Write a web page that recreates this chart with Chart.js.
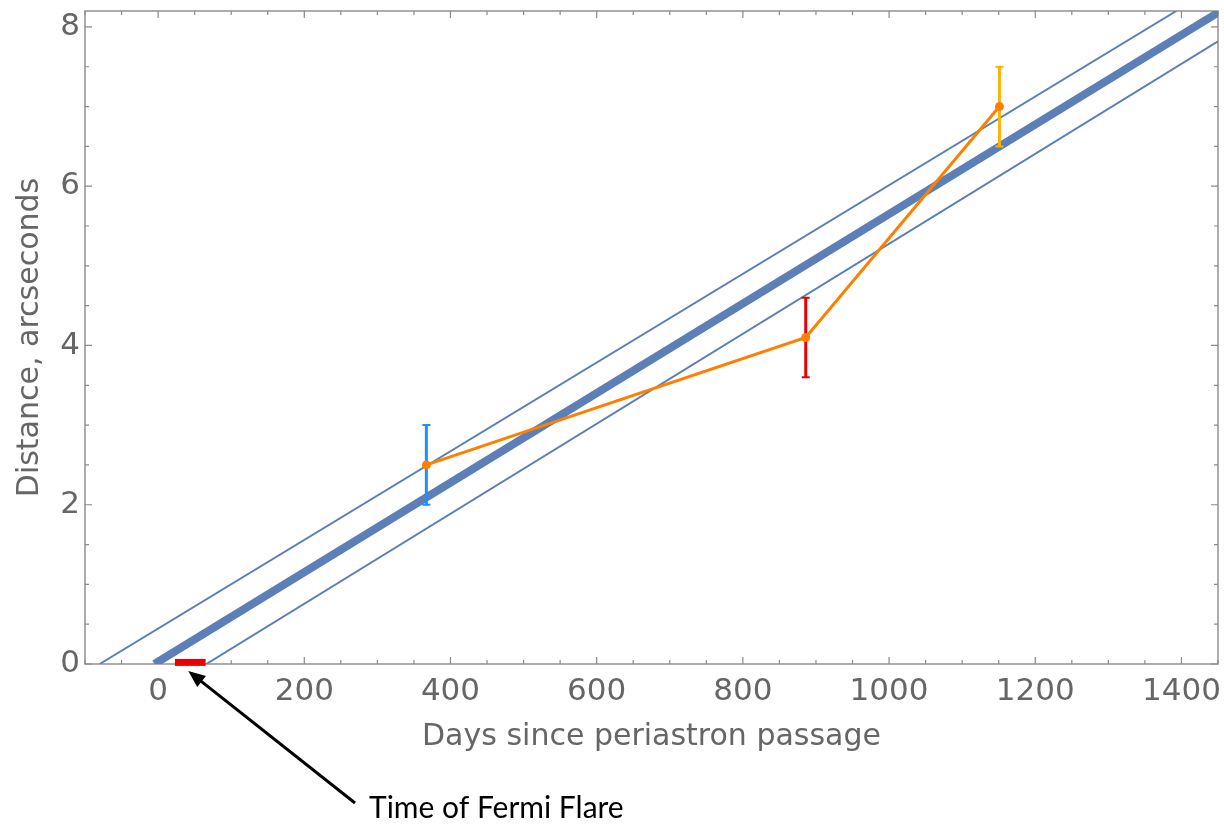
<!DOCTYPE html>
<html>
<head>
<meta charset="utf-8">
<script src="https://cdn.jsdelivr.net/npm/chart.js@4"></script>
<style>
  html, body { margin: 0; padding: 0; background: #ffffff; }
  #wrap { width: 1224px; height: 826px; position: relative; }
</style>
</head>
<body>
<div id="wrap"><canvas id="chart"></canvas></div>
<script>
// ========================================
// Data
// ========================================
const obsDays = [367, 886, 1151];
const obsDist = [2.5, 4.1, 7.0];
const obsLow = [2.0, 3.6, 6.5];
const obsHigh = [3.0, 4.6, 7.5];
const obsColors = ['#1e8fff', '#e80000', '#ffb400'];

// fitted expansion line and its envelope (end points where they meet the frame)
const fitDays = [-5, 1450];
const fitDist = [0, 8.18];
const upperDays = [-80, 1393];
const upperDist = [0, 8.2];
const lowerDays = [66, 1450];
const lowerDist = [0, 7.82];

// Fermi flare interval
const flareDays = [23, 65];
const flareDist = [0.02, 0.02];

const xTickLabels = [0, 200, 400, 600, 800, 1000, 1200, 1400];
const yTickLabels = [0, 2, 4, 6, 8];

const GRAY = '#666666';
const LINE_BLUE = '#5b7fb6';
const FONT = "'DejaVu Sans', 'Liberation Sans', sans-serif";

const pts = (xs, ys) => xs.map((x, i) => ({ x: x, y: ys[i] }));
const near = (v, list) => list.find(l => Math.abs(l - v) < 1e-6);

// ========================================
// Plugins
// ========================================
// Mathematica-style frame with inward ticks on all four sides
const frameTicks = {
    id: 'frameTicks',
    beforeDatasetsDraw(chart) {
        const { ctx, chartArea: a, scales: { x, y } } = chart;
        ctx.save();
        ctx.strokeStyle = '#8a8a8a';
        ctx.lineWidth = 1.4;
        ctx.strokeRect(a.left, a.top, a.right - a.left, a.bottom - a.top);
        ctx.lineWidth = 1.2;
        ctx.beginPath();
        x.ticks.forEach(t => {
            if (t.value % 50 !== 0) return;
            const px = x.getPixelForValue(t.value);
            const len = t.value % 200 === 0 ? 7 : 4;
            ctx.moveTo(px, a.bottom); ctx.lineTo(px, a.bottom - len);
            ctx.moveTo(px, a.top); ctx.lineTo(px, a.top + len);
        });
        y.ticks.forEach(t => {
            if (Math.abs(t.value * 2 - Math.round(t.value * 2)) > 1e-6) return;
            const py = y.getPixelForValue(t.value);
            const len = near(t.value, yTickLabels) !== undefined ? 7 : 4;
            ctx.moveTo(a.left, py); ctx.lineTo(a.left + len, py);
            ctx.moveTo(a.right, py); ctx.lineTo(a.right - len, py);
        });
        ctx.stroke();
        ctx.restore();
    }
};

// error bars, drawn just before the orange observation line
const errorBars = {
    id: 'errorBars',
    beforeDatasetDraw(chart, args) {
        if (args.index !== 0) return;
        const { ctx, scales: { x, y } } = chart;
        ctx.save();
        obsDays.forEach((d, i) => {
            const px = x.getPixelForValue(d);
            const y0 = y.getPixelForValue(obsLow[i]);
            const y1 = y.getPixelForValue(obsHigh[i]);
            ctx.strokeStyle = obsColors[i];
            ctx.lineWidth = 3;
            ctx.beginPath();
            ctx.moveTo(px, y0); ctx.lineTo(px, y1);
            ctx.stroke();
            ctx.lineWidth = 2;
            ctx.beginPath();
            ctx.moveTo(px - 4, y0); ctx.lineTo(px + 4, y0);
            ctx.moveTo(px - 4, y1); ctx.lineTo(px + 4, y1);
            ctx.stroke();
        });
        ctx.restore();
    }
};

// arrow + caption pointing at the flare interval
const flareNote = {
    id: 'flareNote',
    afterDraw(chart) {
        const { ctx, chartArea: a, scales: { x } } = chart;
        const tipX = x.getPixelForValue((flareDays[0] + flareDays[1]) / 2) - 2;
        const tipY = a.bottom + 7;
        const tailX = 355, tailY = 803;
        const ang = Math.atan2(tipY - tailY, tipX - tailX);
        const head = 17, half = 7;
        ctx.save();
        ctx.strokeStyle = '#000';
        ctx.fillStyle = '#000';
        ctx.lineWidth = 3;
        ctx.beginPath();
        ctx.moveTo(tailX, tailY);
        ctx.lineTo(tipX - Math.cos(ang) * (head - 2), tipY - Math.sin(ang) * (head - 2));
        ctx.stroke();
        const bx = tipX - Math.cos(ang) * head, by = tipY - Math.sin(ang) * head;
        ctx.beginPath();
        ctx.moveTo(tipX, tipY);
        ctx.lineTo(bx + Math.sin(ang) * half, by - Math.cos(ang) * half);
        ctx.lineTo(bx - Math.sin(ang) * half, by + Math.cos(ang) * half);
        ctx.closePath();
        ctx.fill();
        ctx.font = "30px Lato";
        ctx.textBaseline = 'alphabetic';
        ctx.fillText('Time of Fermi Flare', 369, 818);
        ctx.restore();
    }
};

// ========================================
// Chart
// ========================================
function drawChart() {
    new Chart(document.getElementById('chart'), {
        type: 'line',
        data: {
            datasets: [
                {
                    label: 'Observations',
                    data: pts(obsDays, obsDist),
                    borderColor: '#ff7f00',
                    backgroundColor: '#ff7f00',
                    borderWidth: 3,
                    pointRadius: 4.5,
                    pointBorderWidth: 0,
                    pointBackgroundColor: '#ff7f00',
                    order: 1
                },
                {
                    label: 'Flare',
                    data: pts(flareDays, flareDist),
                    borderColor: '#ee0000',
                    borderWidth: 7,
                    borderCapStyle: 'butt',
                    pointRadius: 0,
                    clip: false,
                    order: 0
                },
                {
                    label: 'Fit',
                    data: pts(fitDays, fitDist),
                    borderColor: LINE_BLUE,
                    borderWidth: 8,
                    pointRadius: 0,
                    clip: 0,
                    order: 2
                },
                {
                    label: 'Upper',
                    data: pts(upperDays, upperDist),
                    borderColor: LINE_BLUE,
                    borderWidth: 2,
                    pointRadius: 0,
                    clip: 0,
                    order: 3
                },
                {
                    label: 'Lower',
                    data: pts(lowerDays, lowerDist),
                    borderColor: LINE_BLUE,
                    borderWidth: 2,
                    pointRadius: 0,
                    clip: 0,
                    order: 3
                }
            ]
        },
        options: {
            responsive: true,
            maintainAspectRatio: false,
            animation: false,
            layout: { padding: { left: 0, right: 6, top: 11, bottom: 0 } },
            plugins: {
                legend: { display: false },
                tooltip: { enabled: false }
            },
            scales: {
                x: {
                    type: 'linear',
                    min: -100,
                    max: 1450,
                    afterFit: s => {
                        s.height = 162;
                        s.paddingLeft = 0;
                        s.paddingRight = 0;
                    },
                    grid: { display: false, drawTicks: false },
                    border: { display: false },
                    ticks: {
                        stepSize: 50,
                        includeBounds: false,
                        autoSkip: false,
                        maxRotation: 0,
                        padding: 9,
                        color: GRAY,
                        font: { family: FONT, size: 31 },
                        callback: v => near(v, xTickLabels) !== undefined ? String(Math.round(v)) : ''
                    },
                    title: {
                        display: true,
                        text: 'Days since periastron passage',
                        color: GRAY,
                        font: { family: FONT, size: 30 },
                        padding: { top: 0, bottom: 71 }
                    }
                },
                y: {
                    type: 'linear',
                    min: 0,
                    max: 8.2,
                    afterFit: s => {
                        s.width = 85;
                        s.paddingTop = 0;
                        s.paddingBottom = 0;
                    },
                    grid: { display: false, drawTicks: false },
                    border: { display: false },
                    ticks: {
                        stepSize: 0.5,
                        includeBounds: false,
                        autoSkip: false,
                        padding: 5,
                        color: GRAY,
                        font: { family: FONT, size: 31 },
                        callback: v => near(v, yTickLabels) !== undefined ? String(Math.round(v)) : ''
                    },
                    title: {
                        display: true,
                        text: 'Distance, arcseconds',
                        color: GRAY,
                        font: { family: FONT, size: 30 },
                        padding: { top: 12, bottom: 0 }
                    }
                }
            }
        },
        plugins: [errorBars, frameTicks, flareNote]
    });
}

Promise.all([
    document.fonts.load("30px 'DejaVu Sans'"),
    document.fonts.load("30px Lato")
]).then(drawChart, drawChart);
</script>
</body>
</html>
